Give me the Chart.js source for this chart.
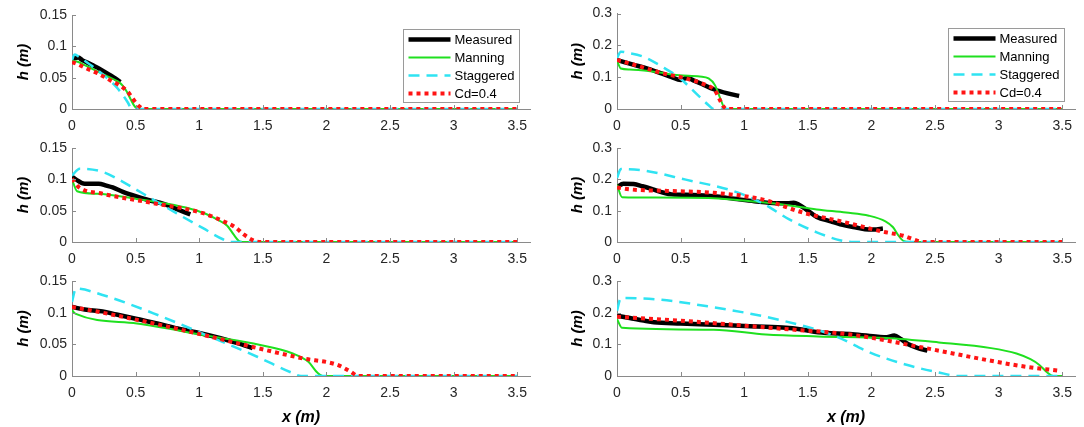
<!DOCTYPE html>
<html>
<head>
<meta charset="utf-8">
<script src="https://cdn.jsdelivr.net/npm/chart.js@4.4.1/dist/chart.umd.min.js"></script>
<style>
  body { margin: 0; background: #fff; width: 1084px; height: 427px; position: relative; overflow: hidden; }
  canvas { position: absolute; }
</style>
</head>
<body>
<canvas id="pA"></canvas>
<canvas id="pB"></canvas>
<canvas id="pC"></canvas>
<canvas id="pD"></canvas>
<canvas id="pE"></canvas>
<canvas id="pF"></canvas>
<script>
// series names (legend order)
const seriesNames = ['Measured', 'Manning', 'Staggered', 'Cd=0.4'];

// tick values
const xTicks = [0, 0.5, 1, 1.5, 2, 2.5, 3, 3.5];
const yTicksLeft = [0, 0.05, 0.1, 0.15];
const yTicksRight = [0, 0.1, 0.2, 0.3];

// panel A (top left)
const aMeasured = [[0,0.078],[0.02,0.081],[0.05,0.082],[0.08,0.078],[0.12,0.074],[0.16,0.07],[0.2,0.066],[0.25,0.06],[0.3,0.054],[0.34,0.049],[0.38,0.043]];
const aManning = [[0,0.077],[0.05,0.075],[0.1,0.07],[0.2,0.06],[0.3,0.05],[0.36,0.044],[0.4,0.037],[0.43,0.028],[0.46,0.016],[0.49,0.005],[0.52,0],[3.5,0]];
const aStaggered = [[0,0.078],[0.02,0.087],[0.05,0.084],[0.1,0.077],[0.2,0.062],[0.3,0.045],[0.35,0.035],[0.4,0.022],[0.44,0.01],[0.47,0],[3.5,0]];
const aCd = [[0,0.075],[0.05,0.071],[0.1,0.066],[0.2,0.057],[0.3,0.046],[0.38,0.037],[0.44,0.027],[0.49,0.013],[0.53,0.004],[0.56,0],[3.5,0]];

// panel B (top right)
const bMeasured = [[0,0.154],[0.05,0.148],[0.12,0.14],[0.24,0.127],[0.35,0.112],[0.43,0.1],[0.5,0.091],[0.55,0.098],[0.6,0.09],[0.675,0.077],[0.76,0.062],[0.87,0.049],[0.96,0.041]];
const bManning = [[0,0.152],[0.03,0.127],[0.1,0.124],[0.29,0.117],[0.49,0.106],[0.65,0.102],[0.72,0.096],[0.77,0.075],[0.81,0.035],[0.84,0.006],[0.86,0],[3.5,0]];
const bStaggered = [[0,0.16],[0.03,0.18],[0.08,0.177],[0.21,0.164],[0.35,0.134],[0.49,0.098],[0.65,0.038],[0.72,0.012],[0.76,0],[3.5,0]];
const bCd = [[0,0.154],[0.1,0.143],[0.21,0.13],[0.35,0.113],[0.54,0.096],[0.7,0.075],[0.77,0.058],[0.81,0.027],[0.84,0.006],[0.86,0],[3.5,0]];

// panel C (middle left)
const cMeasured = [[0,0.104],[0.03,0.1],[0.1,0.093],[0.15,0.093],[0.21,0.093],[0.27,0.09],[0.32,0.087],[0.4,0.08],[0.5,0.073],[0.6,0.067],[0.72,0.061],[0.82,0.053],[0.93,0.044]];
const cManning = [[0,0.1],[0.04,0.081],[0.2,0.077],[0.5,0.069],[0.75,0.061],[0.93,0.053],[1.05,0.045],[1.14,0.036],[1.22,0.026],[1.27,0.012],[1.31,0.002],[1.34,0],[3.5,0]];
const cStaggered = [[0,0.106],[0.06,0.117],[0.24,0.112],[0.4,0.096],[0.56,0.077],[0.82,0.046],[1.03,0.022],[1.19,0.004],[1.25,0],[3.5,0]];
const cCd = [[0,0.101],[0.05,0.088],[0.24,0.077],[0.64,0.062],[1.03,0.046],[1.19,0.033],[1.28,0.024],[1.35,0.012],[1.42,0.003],[1.47,0],[3.5,0]];

// panel D (middle right)
const dMeasured = [[0,0.175],[0.05,0.186],[0.13,0.185],[0.2,0.178],[0.29,0.167],[0.36,0.158],[0.43,0.152],[0.6,0.15],[0.76,0.146],[0.92,0.138],[1.08,0.13],[1.25,0.124],[1.35,0.124],[1.39,0.125],[1.43,0.119],[1.48,0.106],[1.57,0.08],[1.68,0.066],[1.79,0.053],[1.88,0.046],[1.95,0.041],[2.02,0.04],[2.09,0.043]];
const dManning = [[0,0.183],[0.04,0.143],[0.3,0.142],[0.76,0.14],[1.05,0.13],[1.3,0.12],[1.57,0.104],[1.8,0.094],[1.98,0.084],[2.11,0.066],[2.17,0.047],[2.21,0.022],[2.25,0.004],[2.3,0],[3.5,0]];
const dStaggered = [[0,0.204],[0.03,0.233],[0.21,0.228],[0.54,0.199],[0.92,0.162],[1.16,0.12],[1.35,0.073],[1.57,0.031],[1.76,0.005],[1.86,0],[3.5,0]];
const dCd = [[0,0.174],[0.1,0.168],[0.4,0.163],[0.76,0.157],[1.14,0.136],[1.46,0.094],[1.79,0.063],[2.09,0.033],[2.25,0.02],[2.32,0.01],[2.38,0.002],[2.42,0],[3.5,0]];

// panel E (bottom left)
const eMeasured = [[0,0.109],[0.1,0.105],[0.24,0.102],[0.35,0.097],[0.51,0.09],[0.67,0.083],[0.83,0.075],[1.0,0.068],[1.16,0.06],[1.3,0.052],[1.42,0.044]];
const eManning = [[0,0.104],[0.03,0.098],[0.51,0.083],[1.05,0.064],[1.48,0.049],[1.73,0.036],[1.86,0.022],[1.93,0.005],[1.97,0],[3.5,0]];
const eStaggered = [[0,0.117],[0.03,0.138],[0.24,0.128],[0.64,0.099],[1.05,0.065],[1.46,0.03],[1.73,0.005],[1.8,0],[3.5,0]];
const eCd = [[0,0.109],[0.24,0.1],[0.64,0.083],[1.05,0.064],[1.46,0.044],[1.81,0.028],[2.08,0.018],[2.19,0.007],[2.25,0],[3.5,0]];

// panel F (bottom right)
const fMeasured = [[0,0.19],[0.1,0.183],[0.21,0.175],[0.29,0.17],[0.5,0.166],[0.76,0.162],[1.0,0.158],[1.3,0.153],[1.45,0.147],[1.58,0.138],[1.85,0.132],[2.05,0.124],[2.12,0.122],[2.18,0.128],[2.23,0.117],[2.29,0.1],[2.36,0.089],[2.44,0.08]];
const fManning = [[0,0.18],[0.04,0.152],[0.76,0.146],[1.17,0.131],[1.58,0.125],[2.12,0.12],[2.53,0.106],[2.94,0.088],[3.14,0.071],[3.25,0.053],[3.32,0.035],[3.38,0.012],[3.43,0],[3.5,0]];
const fStaggered = [[0,0.206],[0.03,0.246],[0.2,0.245],[0.76,0.217],[1.3,0.175],[1.71,0.127],[1.99,0.074],[2.26,0.037],[2.53,0.011],[2.69,0],[3.5,0]];
const fCd = [[0,0.187],[0.49,0.175],[1.3,0.149],[1.85,0.13],[2.4,0.09],[2.94,0.048],[3.2,0.03],[3.49,0.016]];

const axisColor = '#8a8a8a';
const labelColor = '#262626';
const fontFamily = 'Arial, "Liberation Sans", Helvetica, sans-serif';

const lineStyles = [
  { color: '#000000', width: 4.5, dash: [] },
  { color: '#1fe01f', width: 2, dash: [] },
  { color: '#2fe3f2', width: 2.5, dash: [11, 7] },
  { color: '#ff1414', width: 4, dash: [4, 4] }
];

// inward tick marks + boxed legend drawn on top, MATLAB-like
const matlabAxes = {
  id: 'matlabAxes',
  afterDraw(chart, args, opts) {
    const { ctx, chartArea } = chart;
    const x = chart.scales.x, y = chart.scales.y;
    ctx.save();
    ctx.strokeStyle = axisColor;
    ctx.lineWidth = 1;
    ctx.beginPath();
    x.ticks.forEach(t => {
      const px = Math.round(x.getPixelForValue(t.value)) + 0.5;
      ctx.moveTo(px, chartArea.bottom);
      ctx.lineTo(px, chartArea.bottom - 4);
    });
    y.ticks.forEach(t => {
      const py = Math.round(y.getPixelForValue(t.value)) + 0.5;
      ctx.moveTo(chartArea.left, py);
      ctx.lineTo(chartArea.left + 4, py);
    });
    ctx.stroke();

    if (opts.legend) {
      const w = 116, h = 73;
      const bx = Math.round(chartArea.right - 11 - w) + 0.5;
      const by = Math.round(chartArea.top + 14) + 0.5;
      ctx.fillStyle = '#fff';
      ctx.fillRect(bx, by, w, h);
      ctx.strokeStyle = '#9a9a9a';
      ctx.lineWidth = 1;
      ctx.strokeRect(bx, by, w, h);
      ctx.font = '13px ' + fontFamily;
      ctx.textBaseline = 'middle';
      ctx.textAlign = 'left';
      chart.data.datasets.forEach((ds, i) => {
        const ry = by + 10 + i * 18;
        ctx.beginPath();
        ctx.setLineDash(ds.borderDash || []);
        ctx.strokeStyle = ds.borderColor;
        ctx.lineWidth = ds.borderWidth;
        ctx.moveTo(bx + 5, ry);
        ctx.lineTo(bx + 47, ry);
        ctx.stroke();
        ctx.setLineDash([]);
        ctx.fillStyle = '#000';
        ctx.fillText(ds.label, bx + 51, ry + 0.5);
      });
    }
    ctx.restore();
  }
};

function makePanel(id, pos, series, yTicks, yMax, showLegend, showXTitle) {
  const cv = document.getElementById(id);
  cv.width = pos.w;
  cv.height = pos.h;
  cv.style.left = pos.left + 'px';
  cv.style.top = pos.top + 'px';

  const datasets = series.map((pts, i) => ({
    label: seriesNames[i],
    data: pts.map(p => ({ x: p[0], y: p[1] })),
    borderColor: lineStyles[i].color,
    borderWidth: lineStyles[i].width,
    borderDash: lineStyles[i].dash,
    borderCapStyle: 'butt',
    pointRadius: 0,
    fill: false,
    cubicInterpolationMode: 'monotone',
    order: 4 - i
  }));

  return new Chart(cv, {
    type: 'line',
    data: { datasets: datasets },
    options: {
      responsive: false,
      animation: false,
      events: [],
      layout: { padding: { top: pos.padTop, right: pos.padRight, left: 0, bottom: 0 } },
      plugins: {
        legend: { display: false },
        tooltip: { enabled: false },
        matlabAxes: { legend: showLegend }
      },
      scales: {
        x: {
          type: 'linear',
          min: 0,
          max: 3.6,
          afterBuildTicks: s => { s.ticks = xTicks.map(v => ({ value: v })); },
          afterFit: s => { s.height = pos.xh; },
          grid: { display: false, drawTicks: false },
          border: { display: true, color: axisColor, width: 1 },
          ticks: {
            padding: 9,
            color: labelColor,
            font: { family: fontFamily, size: 14 },
            maxRotation: 0,
            callback: v => String(v)
          },
          title: {
            display: showXTitle,
            text: 'x (m)',
            color: '#000',
            font: { family: fontFamily, size: 16, weight: 'bold', style: 'italic' },
            padding: { top: 0, bottom: 0 }
          }
        },
        y: {
          type: 'linear',
          min: 0,
          max: yMax,
          afterBuildTicks: s => { s.ticks = yTicks.map(v => ({ value: v })); },
          afterFit: s => { s.width = pos.yw; },
          grid: { display: false, drawTicks: false },
          border: { display: true, color: axisColor, width: 1 },
          ticks: {
            padding: 5,
            color: labelColor,
            font: { family: fontFamily, size: 14 },
            callback: v => String(v)
          },
          title: {
            display: true,
            text: 'h (m)',
            color: '#000',
            font: { family: fontFamily, size: 15, weight: 'bold', style: 'italic' },
            padding: { top: pos.titlePad, bottom: 0 }
          }
        }
      }
    },
    plugins: [matlabAxes]
  });
}

// left column: plot area x 72..530, right column: 617..1075
const leftCol = { left: 0, w: 555, yw: 72, padRight: 25, titlePad: 15 };
const rightCol = { left: 555, w: 529, yw: 62, padRight: 9, titlePad: 14 };

const row1 = { top: 0, h: 134, xh: 25 };
const row2 = { top: 134, h: 133, xh: 25 };
const row3 = { top: 267, h: 160, xh: 51 };

makePanel('pA', Object.assign({}, leftCol, row1, { padTop: 15 }), [aMeasured, aManning, aStaggered, aCd], yTicksLeft, 0.15, true, false);
makePanel('pB', Object.assign({}, rightCol, row1, { padTop: 13.5 }), [bMeasured, bManning, bStaggered, bCd], yTicksRight, 0.3, true, false);
makePanel('pC', Object.assign({}, leftCol, row2, { padTop: 14 }), [cMeasured, cManning, cStaggered, cCd], yTicksLeft, 0.15, false, false);
makePanel('pD', Object.assign({}, rightCol, row2, { padTop: 14 }), [dMeasured, dManning, dStaggered, dCd], yTicksRight, 0.3, false, false);
makePanel('pE', Object.assign({}, leftCol, row3, { padTop: 14 }), [eMeasured, eManning, eStaggered, eCd], yTicksLeft, 0.15, false, true);
makePanel('pF', Object.assign({}, rightCol, row3, { padTop: 14 }), [fMeasured, fManning, fStaggered, fCd], yTicksRight, 0.3, false, true);
</script>
</body>
</html>
